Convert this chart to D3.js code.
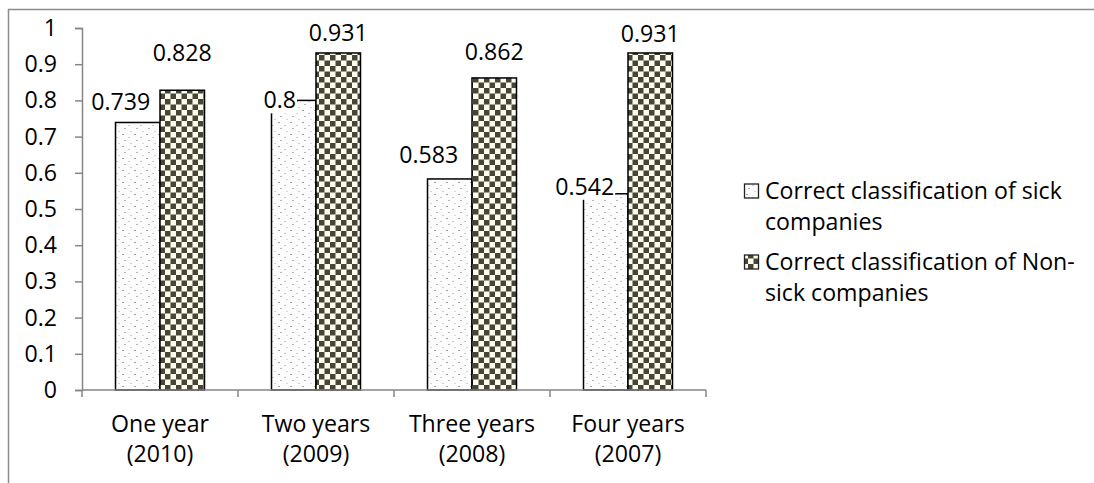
<!DOCTYPE html>
<html><head><meta charset="utf-8">
<script src="https://cdn.jsdelivr.net/npm/d3@7"></script>
<style>
html,body{margin:0;padding:0;background:#fff;}
svg{display:block;font-family:"Open Sans",sans-serif;}
</style></head>
<body><svg id="chart" width="1094" height="483"></svg>
<script>
// ---- data ----
const categories = [["One year","(2010)"],["Two years","(2009)"],["Three years","(2008)"],["Four years","(2007)"]];
const seriesNames = [["Correct classification of sick","companies"],["Correct classification of Non-","sick companies"]];
const sickValues = [0.739, 0.8, 0.583, 0.542];
const nonSickValues = [0.828, 0.931, 0.862, 0.931];
const yTicks = [0,0.1,0.2,0.3,0.4,0.5,0.6,0.7,0.8,0.9,1];
// label nudges (layout, px) [dx, dy relative to bar top center]
const sickLabelNudge = [[-17,-12],[-14,8],[-21,-16],[-21,1]];
const nonSickLabelNudge = [[0,-29],[0,-12],[0,-18],[0,-11]];

const svg = d3.select("#chart");
const probe = svg.append("text").attr("font-size",20).text("Correct classification of sick");
const w20 = probe.node().getComputedTextLength();
probe.remove();
const FS = Math.max(14, Math.min(24, 20*297/w20));

const defs = svg.append("defs");
const pd = defs.append("pattern").attr("id","dots").attr("patternUnits","userSpaceOnUse")
  .attr("width",12).attr("height",12);
pd.append("rect").attr("width",12).attr("height",12).attr("fill","#fcfcfc");
[[2,2,"#a0a0a0"],[8,5,"#c8c8c8"],[4,8,"#b4b4b4"],[10,11,"#d4d4d4"]].forEach(([x,y,c])=>{
  pd.append("rect").attr("x",x).attr("y",y).attr("width",2).attr("height",1).attr("fill",c);
});
const c = 5.5;
const pc = defs.append("pattern").attr("id","checker").attr("patternUnits","userSpaceOnUse")
  .attr("width",2*c).attr("height",2*c).attr("x",0).attr("y",0);
pc.append("rect").attr("width",2*c).attr("height",2*c).attr("fill","#fdfdee");
pc.append("rect").attr("x",0).attr("y",0).attr("width",c).attr("height",c).attr("fill","#474537");
pc.append("rect").attr("x",c).attr("y",c).attr("width",c).attr("height",c).attr("fill","#474537");

svg.append("line").attr("x1",8).attr("x2",1094).attr("y1",9.5).attr("y2",9.5).attr("stroke","#8c8c8c").attr("stroke-width",1.5);
svg.append("line").attr("x1",8.5).attr("x2",8.5).attr("y1",9).attr("y2",483).attr("stroke","#8c8c8c").attr("stroke-width",1.5);

const x0 = 82, x1 = 706, yBottom = 390, yTop = 28;
const x = d3.scaleBand().domain(d3.range(categories.length)).range([x0,x1]).paddingInner(0).paddingOuter(0);
const y = d3.scaleLinear().domain([0,1]).range([yBottom,yTop]);
const barW = 44.5;

const yAxis = d3.axisLeft(y).tickValues(yTicks).tickSize(7).tickPadding(18).tickFormat(d=>d===0?"0":(d===1?"1":d3.format(".1f")(d)));
const gy = svg.append("g").attr("transform",`translate(${x0},0)`).call(yAxis);
gy.select(".domain").attr("stroke","#868686").attr("stroke-width",1.5);
gy.selectAll(".tick line").attr("stroke","#868686").attr("stroke-width",1.5);
gy.selectAll(".tick text").attr("font-size",FS).attr("fill","#000").attr("font-family","'Open Sans',sans-serif");

sickValues.forEach((v,i)=>{
  const cx = x(i)+x.bandwidth()/2;
  svg.append("rect").attr("x",cx-barW).attr("y",y(v)).attr("width",barW).attr("height",yBottom-y(v))
    .attr("fill","url(#dots)").attr("stroke","#000").attr("stroke-width",1.5);
});
nonSickValues.forEach((v,i)=>{
  const cx = x(i)+x.bandwidth()/2;
  svg.append("rect").attr("x",cx).attr("y",y(v)).attr("width",barW).attr("height",yBottom-y(v))
    .attr("fill","url(#checker)").attr("stroke","#000").attr("stroke-width",1.5);
});

const gx = svg.append("g");
gx.append("line").attr("x1",x0).attr("x2",x1).attr("y1",yBottom).attr("y2",yBottom).attr("stroke","#868686").attr("stroke-width",1.5);
d3.range(categories.length+1).forEach(i=>{
  const xx = x0 + i*x.bandwidth();
  gx.append("line").attr("x1",xx).attr("x2",xx).attr("y1",yBottom).attr("y2",yBottom+7).attr("stroke","#868686").attr("stroke-width",1.5);
});
categories.forEach((lines,i)=>{
  const cx = x(i)+x.bandwidth()/2;
  const t = gx.append("text").attr("text-anchor","middle").attr("font-size",FS).attr("fill","#000");
  t.append("tspan").attr("x",cx).attr("y",432).text(lines[0]);
  t.append("tspan").attr("x",cx).attr("y",462).text(lines[1]);
});

// value labels with white backgrounds (as in the source chart)
function label(xc, yb, txt){
  const t = svg.append("text").attr("x",xc).attr("y",yb).attr("text-anchor","middle")
    .attr("font-size",FS).attr("fill","#000").text(txt);
  const bb = t.node().getBBox();
  svg.insert("rect", () => t.node()).attr("x",bb.x-1).attr("y",bb.y+3).attr("width",bb.width+2).attr("height",bb.height-5).attr("fill","#fff");
}
sickValues.forEach((v,i)=>{
  const cx = x(i)+x.bandwidth()/2 - barW/2;
  label(cx+sickLabelNudge[i][0], y(v)+sickLabelNudge[i][1], String(v));
});
nonSickValues.forEach((v,i)=>{
  const cx = x(i)+x.bandwidth()/2 + barW/2;
  label(cx+nonSickLabelNudge[i][0], y(v)+nonSickLabelNudge[i][1], String(v));
});

const legY = [199, 270];
const fills = ["url(#dots)","url(#checker)"];
seriesNames.forEach((lines,i)=>{
  svg.append("rect").attr("x",744.5).attr("y",legY[i]-15).attr("width",14).attr("height",14)
    .attr("fill",fills[i]).attr("stroke","#222").attr("stroke-width",1.3);
  const t = svg.append("text").attr("font-size",FS).attr("fill","#000");
  t.append("tspan").attr("x",765).attr("y",legY[i]).text(lines[0]);
  t.append("tspan").attr("x",765).attr("y",legY[i]+31).text(lines[1]);
});
</script></body></html>
